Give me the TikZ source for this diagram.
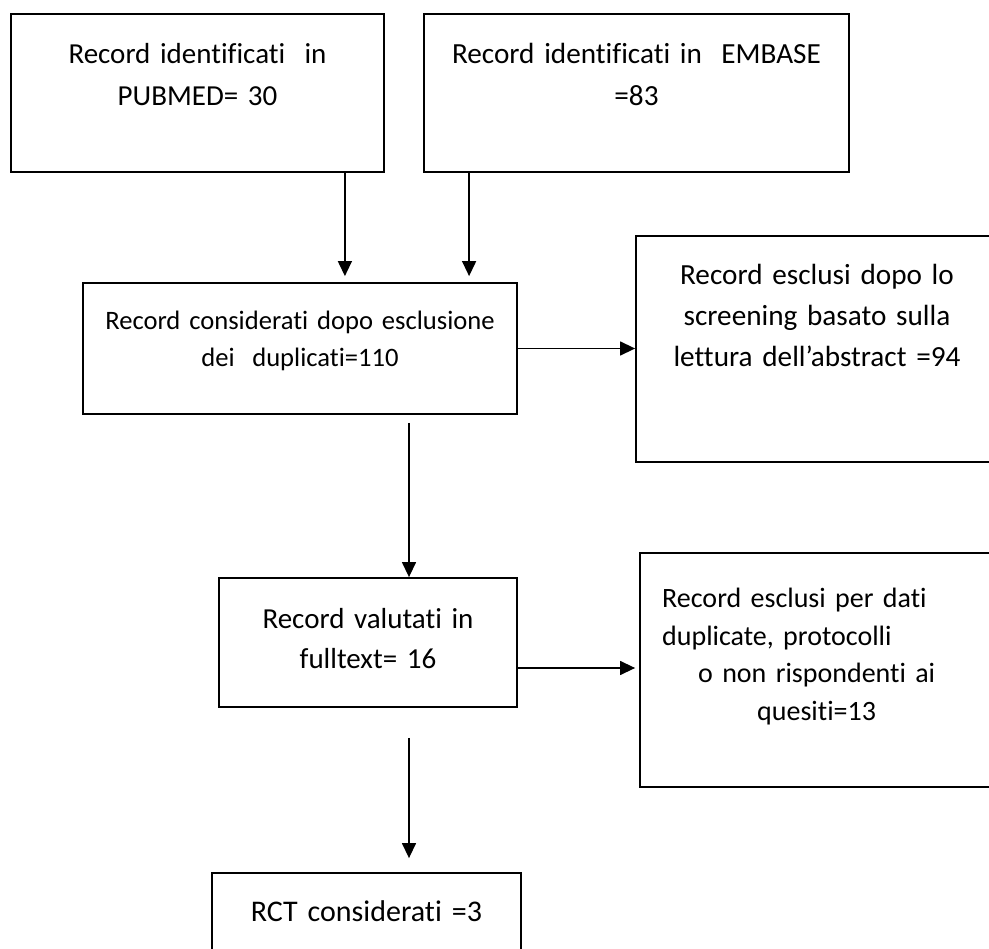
\documentclass[tikz,border=0pt]{standalone}
\usepackage{fontspec}
\setmainfont{Carlito}[Ligatures=NoCommon]
\usetikzlibrary{arrows.meta}

\begin{document}
\begin{tikzpicture}[x=1pt, y=-1pt,
    box/.style={draw, line width=1.8pt, rectangle, inner sep=0pt},
    txt/.style={anchor=base, align=center, inner sep=0pt},
    arr/.style={line width=1.4pt, -{Triangle[length=15pt, width=14pt]}}]
    \clip (0,0) rectangle (989,949);
    \fill[white] (0,0) rectangle (989,949);

    % Riquadri
    \foreach \name/\x/\y/\w/\h in {
      pubmed/197.5/93/373/158,
      embase/636.5/93/425/158,
      consid/300/348.5/434/131,
      screen/818/349/364/226,
      fulltext/368/642.5/298/129,
      escl/821/670/362/234,
      rct/366.5/916.5/309/87
    } {
      \node[box, minimum width=\w, minimum height=\h] (\name) at (\x, \y) {};
    }

    % Testi
    \node[txt, text width=360pt, font=\fontsize{29}{42}\selectfont] (pubmed-t)
      at (197.5, 64) {Record identificati~ in\\PUBMED= 30};
    \node[txt, text width=410pt, font=\fontsize{29.2}{42}\selectfont] (embase-t)
      at (636.5, 64) {Record identificati in~ EMBASE\\=83};
    \node[txt, text width=420pt, font=\fontsize{26.6}{37}\selectfont] (consid-t)
      at (300, 330) {Record considerati dopo esclusione\\dei~ duplicati=110};
    \node[txt, text width=340pt, font=\fontsize{29.2}{41}\selectfont] (screen-t)
      at (817, 285) {Record esclusi dopo lo\\screening basato sulla\\lettura dell’abstract =94};
    \node[txt, text width=290pt, font=\fontsize{29}{40}\selectfont] (fulltext-t)
      at (368, 628) {Record valutati in\\fulltext= 16};
    \node[txt, anchor=base west, align=left, text width=320pt,
      font=\fontsize{28}{37.5}\selectfont] (escl-t)
      at (662, 608) {Record esclusi per dati\\duplicate, protocolli\\
      \hspace*{36pt}o non rispondenti ai\\\hspace*{95pt}quesiti=13};
    \node[txt, text width=300pt, font=\fontsize{30}{40}\selectfont] (rct-t)
      at (366.5, 921) {RCT considerati =3};

    % Frecce
    \coordinate (a1) at ([xshift=-40pt]pubmed.south east);
    \coordinate (b1) at ([xshift=46pt]embase.south west);
    \coordinate (c1) at ([xshift=41pt]fulltext.north);
    \coordinate (e1) at ([yshift=-25.5pt]fulltext.east);
    \coordinate (e2) at ([xshift=41pt]fulltext.south);
    \draw[arr, shorten >=6pt] (a1) -- (a1 |- consid.north);
    \draw[arr, shorten >=6pt] (b1) -- (b1 |- consid.north);
    \draw[arr] (consid.east) -- (consid.east -| screen.west);
    \draw[arr, shorten <=8pt] (c1 |- consid.south) -- (c1);
    \draw[arr, shorten >=4pt] (e1) -- (e1 -| escl.west);
    \draw[arr, shorten <=30pt, shorten >=14pt] (e2) -- (e2 |- rct.north);
\end{tikzpicture}
\end{document}
